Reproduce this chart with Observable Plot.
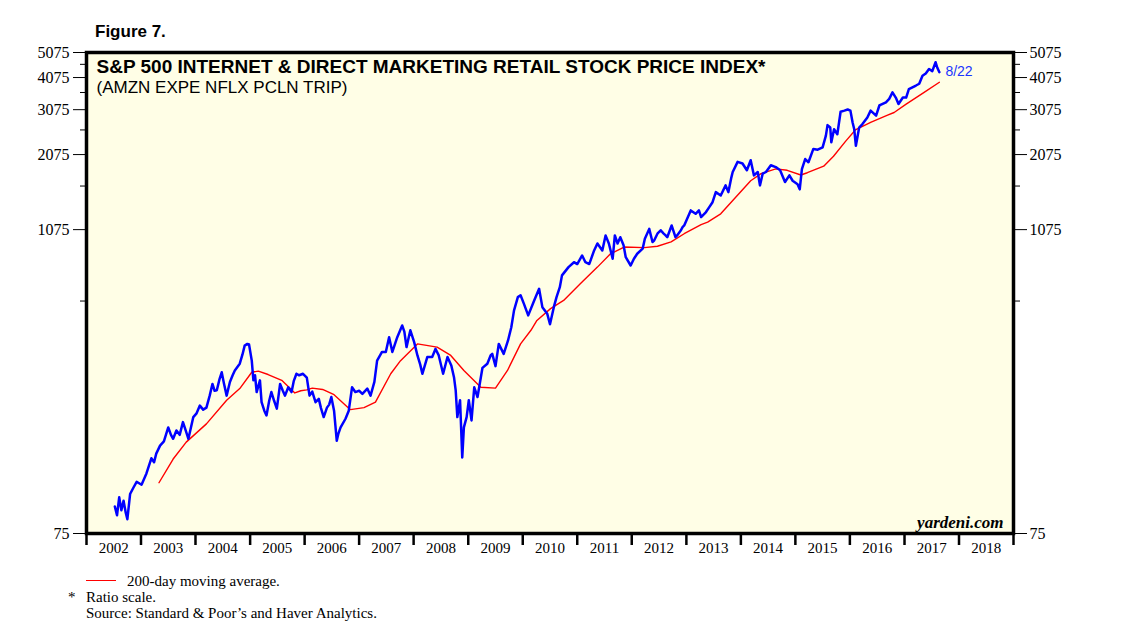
<!DOCTYPE html>
<html><head><meta charset="utf-8">
<script src="https://cdn.jsdelivr.net/npm/d3@7"></script>
<script src="https://cdn.jsdelivr.net/npm/@observablehq/plot@0.6"></script>
<style>
body{margin:0;background:#fff;width:1138px;height:628px;overflow:hidden;position:relative;font-family:"Liberation Sans",Arial,sans-serif}
#fig{position:absolute;left:95px;top:22px;font-weight:bold;font-size:17px;font-family:"Liberation Sans",Arial,sans-serif;line-height:20px}
#chart{position:absolute;left:0;top:45px}
.note{position:absolute;font-family:"Liberation Serif","Times New Roman",serif;font-size:15px;line-height:16px;white-space:nowrap}
.swatch{position:absolute;left:86px;top:580px;width:30px;height:0;border-top:1.3px solid #ff0000}
</style></head>
<body>
<div id="fig">Figure 7.</div>
<div id="chart"></div>
<div class="swatch"></div>
<div class="note" style="left:127px;top:573px">200-day moving average.</div>
<div class="note" style="left:68px;top:589px">*</div>
<div class="note" style="left:86px;top:589px">Ratio scale.</div>
<div class="note" style="left:86px;top:605px">Source: Standard &amp; Poor’s and Haver Analytics.</div>
<script>
// Index (decimal years, values)
const indexYears = [2002.52,2002.56,2002.60,2002.64,2002.68,2002.72,2002.75,2002.80,2002.86,2002.92,
2003.01,2003.10,2003.19,2003.24,2003.28,2003.35,2003.42,2003.50,2003.55,2003.59,2003.65,2003.71,2003.77,2003.82,2003.87,2003.96,
2004.02,2004.08,2004.14,2004.20,2004.26,2004.31,2004.35,2004.39,2004.44,2004.48,2004.52,2004.57,2004.63,2004.68,2004.72,2004.81,2004.86,2004.90,2004.95,2004.98,
2005.03,2005.06,2005.09,2005.12,2005.18,2005.21,2005.26,2005.30,2005.35,2005.39,2005.44,2005.49,2005.55,2005.60,2005.64,2005.70,2005.76,2005.80,2005.85,2005.90,2005.97,
2006.04,2006.09,2006.14,2006.20,2006.26,2006.30,2006.35,2006.41,2006.45,2006.49,2006.54,2006.59,2006.62,2006.66,2006.75,2006.81,2006.87,2006.93,
2007.00,2007.06,2007.15,2007.21,2007.28,2007.33,2007.42,2007.49,2007.55,2007.61,2007.70,2007.79,2007.83,2007.87,2007.94,
2008.01,2008.07,2008.12,2008.16,2008.25,2008.34,2008.40,2008.46,2008.54,2008.62,2008.69,2008.74,2008.77,2008.80,2008.85,2008.89,2008.92,2008.97,
2009.01,2009.06,2009.11,2009.17,2009.26,2009.35,2009.41,2009.44,2009.50,2009.56,2009.65,2009.73,2009.79,2009.84,2009.91,2009.96,
2010.02,2010.10,2010.21,2010.30,2010.36,2010.45,2010.50,2010.57,2010.62,2010.68,2010.72,2010.84,2010.94,
2011.00,2011.09,2011.15,2011.22,2011.31,2011.37,2011.46,2011.52,2011.58,2011.65,2011.69,2011.74,2011.79,2011.85,2011.89,2011.98,
2012.04,2012.10,2012.20,2012.24,2012.32,2012.38,2012.41,2012.47,2012.53,2012.58,2012.62,2012.65,2012.73,2012.80,2012.83,2012.90,2012.93,2012.96,
2013.08,2013.17,2013.23,2013.27,2013.36,2013.42,2013.48,2013.54,2013.63,2013.72,2013.77,2013.82,2013.85,2013.94,
2014.03,2014.11,2014.18,2014.24,2014.31,2014.35,2014.40,2014.46,2014.55,2014.64,2014.72,2014.81,2014.89,2014.95,
2015.04,2015.08,2015.12,2015.18,2015.24,2015.33,2015.41,2015.50,2015.56,2015.59,2015.64,2015.66,2015.71,2015.77,2015.83,2015.90,2015.96,
2016.01,2016.05,2016.08,2016.11,2016.17,2016.23,2016.32,2016.38,2016.48,2016.54,2016.66,2016.72,2016.78,2016.84,2016.89,2016.97,
2017.03,2017.08,2017.21,2017.27,2017.33,2017.39,2017.45,2017.51,2017.57,2017.60,2017.64];
const indexValues = [95,88,103,92,100,90,85,106,112,118,
115,127,145,140,151,162,168,190,178,172,185,178,199,185,172,208,
215,230,222,226,251,278,262,263,290,308,280,251,283,300,313,332,360,389,395,393,
341,287,300,259,287,237,220,211,240,259,240,224,278,262,251,270,259,285,304,300,304,
294,251,260,237,244,225,208,226,232,248,220,169,180,190,205,220,270,259,
262,255,267,251,283,341,368,368,419,368,419,464,440,384,445,
401,357,330,304,352,352,378,357,304,352,327,294,263,208,241,146,190,208,
241,202,270,248,320,332,357,362,325,395,362,407,457,530,595,605,
562,507,578,640,545,514,469,545,595,649,720,774,808,
795,857,808,795,896,952,896,1022,952,833,1022,952,1006,937,844,785,
833,870,910,992,1082,965,977,1037,1069,1040,1022,1006,1115,1006,1022,1069,1099,1115,
1272,1235,1272,1200,1254,1309,1367,1493,1450,1584,1493,1680,1781,1946,
1918,1808,1975,1729,1781,1584,1755,1781,1890,1860,1808,1631,1729,1650,
1601,1530,1828,1995,1940,2180,2165,2210,2450,2686,2630,2310,2590,2480,3020,3050,3080,
3050,2750,2590,2240,2630,2710,2870,3050,2920,3190,3280,3380,3580,3420,3230,3420,
3420,3680,3800,3860,4140,4220,4390,4310,4660,4450,4270];

// 200-day moving average
const maYears = [2003.33,2003.59,2003.83,2004.20,2004.57,2004.81,2005.03,2005.15,2005.33,2005.58,2005.82,2005.93,
2006.04,2006.14,2006.33,2006.54,2006.84,2007.09,2007.30,2007.58,2007.76,2008.07,2008.43,2008.68,2008.92,
2009.23,2009.50,2009.72,2009.96,2010.15,2010.26,2010.51,2010.75,2011.06,2011.37,2011.61,2011.86,
2012.23,2012.47,2012.72,2012.96,2013.27,2013.39,2013.63,2013.88,2014.18,2014.37,2014.64,2014.85,
2015.10,2015.22,2015.52,2015.70,2015.92,2016.10,2016.39,2016.69,2016.81,2017.03,2017.36,2017.64];
const maValues = [117,144,167,196,241,267,308,311,302,287,257,262,
264,268,265,253,222,226,237,304,341,395,384,357,313,
270,268,313,395,445,485,538,578,670,774,870,923,
918,929,965,1037,1124,1148,1235,1410,1650,1755,1830,1808,
1735,1770,1875,2045,2330,2575,2755,2930,3000,3230,3580,3910];

const yearTicks = d3.range(2002, 2020);
const yearLabels = d3.range(2002, 2019);
const majorTicks = [75, 1075, 2075, 3075, 4075, 5075];
const minorTicks = [575, 1575, 2575, 3575, 4575];
const lastLabel = "8/22";

const toDate = t => { const y = Math.floor(t); const a = Date.UTC(y,0,1), b = Date.UTC(y+1,0,1); return new Date(a + (t - y) * (b - a)); };
const series = indexYears.map((t, i) => ({date: toDate(t), value: indexValues[i]}));
const ma = maYears.map((t, i) => ({date: toDate(t), value: maValues[i]}));

const sans = "Liberation Sans, Arial, sans-serif";
const serif = "Liberation Serif, Times New Roman, serif";

const chart = Plot.plot({
  width: 1138,
  height: 520,
  marginTop: 7,
  marginBottom: 32,
  marginLeft: 86,
  marginRight: 125,
  style: {fontFamily: serif, fontSize: "15px", background: "transparent", overflow: "visible"},
  x: {type: "utc", domain: [new Date(Date.UTC(2002,0,1)), new Date(Date.UTC(2019,0,1))]},
  y: {type: "log", domain: [75, 5075]},
  marks: [
    Plot.frame({fill: "#fffee6", stroke: null}),
    Plot.line(ma, {x: "date", y: "value", stroke: "#ff0000", strokeWidth: 1.4}),
    Plot.line(series, {x: "date", y: "value", stroke: "#0000ff", strokeWidth: 2.5, strokeLinejoin: "round"}),
    Plot.text([series[series.length-1]], {x: "date", y: "value", text: () => lastLabel, dx: 6, dy: -1, textAnchor: "start", fill: "#1a35ff", fontFamily: sans, fontSize: 14}),
    Plot.text(["S&P 500 INTERNET & DIRECT MARKETING RETAIL STOCK PRICE INDEX*"], {frameAnchor: "top-left", dx: 10, dy: 14, textAnchor: "start", lineAnchor: "middle", fontWeight: "bold", fontFamily: sans, fontSize: 19, fill: "#000"}),
    Plot.text(["(AMZN EXPE NFLX PCLN TRIP)"], {frameAnchor: "top-left", dx: 10, dy: 35, textAnchor: "start", lineAnchor: "middle", fontFamily: sans, fontSize: 17, fill: "#000"}),
    Plot.text(["yardeni.com"], {frameAnchor: "bottom-right", dx: -10, dy: -11, textAnchor: "end", lineAnchor: "middle", fontFamily: serif, fontStyle: "italic", fontWeight: "bold", fontSize: 17, fill: "#000"}),
    Plot.axisY({anchor: "left", ticks: majorTicks, tickSize: 13, tickFormat: () => "", label: null}),
    Plot.text(majorTicks, {y: d => d, text: d => String(d), frameAnchor: "left", dx: -17, textAnchor: "end", fontFamily: serif, fontSize: 16, fill: "#000"}),
    Plot.axisY({anchor: "left", ticks: minorTicks, tickSize: 6, tickFormat: () => "", label: null}),
    Plot.axisY({anchor: "right", ticks: majorTicks, tickSize: 13, tickFormat: () => "", label: null}),
    Plot.text(majorTicks, {y: d => d, text: d => String(d), frameAnchor: "right", dx: 16, textAnchor: "start", fontFamily: serif, fontSize: 16, fill: "#000"}),
    Plot.axisY({anchor: "right", ticks: minorTicks, tickSize: 6, tickFormat: () => "", label: null}),
    Plot.axisX({ticks: yearTicks.map(y => new Date(Date.UTC(y,0,1))), tickSize: 12, strokeWidth: 2.5, tickFormat: () => "", label: null}),
    Plot.axisX({ticks: yearLabels.map(y => new Date(Date.UTC(y,6,2))), tickSize: 0, tickPadding: 9, tickFormat: d => String(d.getUTCFullYear()), label: null, fontSize: 15}),
    Plot.frame({stroke: "#000", strokeWidth: 3.5})
  ]
});
document.getElementById("chart").appendChild(chart);
</script>
</body></html>
